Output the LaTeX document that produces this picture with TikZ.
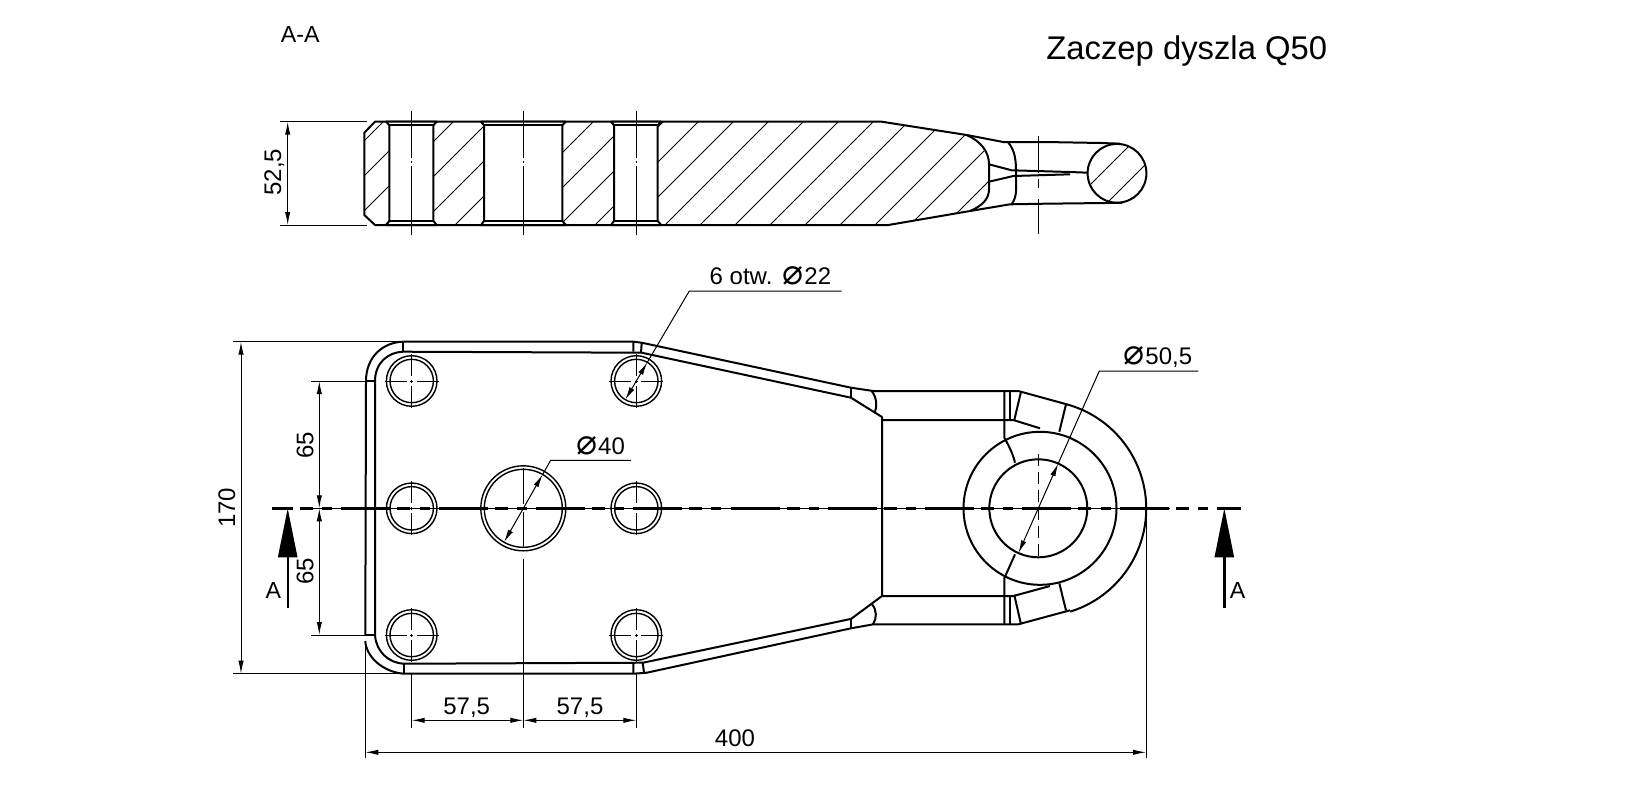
\documentclass[tikz,border=0pt]{standalone}
\usepackage{fontspec}
\setmainfont{Liberation Sans}
\newfontfamily\diafont{DejaVu Sans}
\usetikzlibrary{arrows.meta}
\newcommand{\dia}{{\diafont\fontsize{17.5pt}{15pt}\selectfont ⌀}}
\tikzset{
	outline/.style={line width=1pt,line join=round},
	holeline/.style={line width=0.7pt},
	thinline/.style={line width=0.5pt},
	hatchline/.style={line width=0.4pt},
	dimline/.style={thinline,>={Latex[length=6.5pt,width=2.7pt]}},
	axisline/.style={thinline,dash pattern=on 11pt off 1.75pt on 1.5pt off 1.75pt},
	sectaxis/.style={thinline,dash pattern=on 23.5pt off 1.5pt on 1pt off 1.5pt on 40pt},
	cutline/.style={line width=1.2pt,dash pattern=on 24.5pt off 3.5pt on 6.5pt off 4.6pt on 5pt off 4.55pt,dash phase=13.85pt},
	cutarrow/.style={line width=1.2pt,-{Triangle[length=24.5pt,width=9.5pt]}},
	label/.style={inner sep=0pt,font=\fontsize{12pt}{12pt}\selectfont,anchor=base},
}
\begin{document}
\begin{tikzpicture}[x=0.5pt,y=-0.5pt]
	\useasboundingbox (0,-1) rectangle (1636,798);
	\def\sectbody{(375,120.7) -- (881.7,120.7) -- (966.7,134) .. controls (980,140) and (989,150) .. (989,163.3)
		-- (989,188.3) .. controls (989,198) and (982,205) .. (970,210) -- (888.3,224) -- (375,224)
		-- (364.3,214) -- (364.3,131.7) -- cycle}

	% section A-A
	\begin{scope}
		\clip \sectbody;
		\foreach \c in {-11,...,9}
			\draw[hatchline] ({889+35*\c-110},110) -- ({889+35*\c-240},240);
	\end{scope}
	\begin{scope}
		\clip (1117,172.3) circle[radius=29.4];
		\foreach \c in {1274,1309}
			\draw[hatchline] ({\c-130},130) -- ({\c-210},210);
	\end{scope}
	\draw[outline] \sectbody;
	\foreach \a/\b in {389.3/433.3,484/562.3,614/657.7} {
		\draw[outline,fill=white] ({\a-3},120.7) -- ({\b+3.5},120.7) -- (\b,124.3) -- (\b,220) -- ({\b+3.5},224)
			-- ({\a-3},224) -- (\a,220) -- (\a,124.3) -- cycle;
		\draw[outline] (\a,124.3) -- (\b,124.3) (\a,220) -- (\b,220);
	}
	\draw[outline] (966.7,134) -- (1003.3,141) -- (1045,141) -- (1101.7,142) -- (1120,142.7);
	\draw[outline] (970,210) -- (1010,203.3) -- (1045,202.7) -- (1122,201.8);
	\draw[outline] (1008.3,141.7) .. controls (1013,147) and (1016,155) .. (1016,169) -- (1016,190) .. controls (1016,195) and (1014,200) .. (1011.7,203);
	\draw[outline] (989,163.3) -- (1011.7,169.3) -- (1070,171) -- (1088,171.7);
	\draw[outline] (989,180.7) -- (1013.3,175) -- (1070,173.3);
	\draw[outline] (1117,172.3) circle[radius=29.4];
	\foreach \x in {411.3,523.3,636.3}
		\draw[sectaxis] (\x,110) -- (\x,234.3);
	\draw[thinline] (1038.3,135) -- (1038.3,172) (1038.3,178) -- (1038.3,187) (1038.3,198) -- (1038.3,232.7);

	% plate outline
	\draw[outline] (403.3,340.7) .. controls (384,341) and (366,355) .. (366,380) -- (365.3,634);
	\draw[outline] (403.3,350.7) .. controls (388,351) and (375,362) .. (375,380) -- (375,634);
	\draw[outline] (365.3,380) -- (375,380) (365.3,634) -- (375,634);
	\draw[outline] (365.3,640) .. controls (366,655) and (382,671) .. (404,672.7);
	\draw[outline] (375,634) .. controls (376,650) and (388,662) .. (404,662.7);
	\draw[outline] (403.3,340.7) -- (633.3,340.7) -- (641.7,341.7) -- (851,386.7) -- (873.3,390) -- (1018.3,390) -- (1066.7,403.3);
	\draw[outline] (403.3,350.7) -- (641.7,351.7) -- (851,396.7) -- (882,416) -- (882,595) -- (851,617.9) -- (643,661.7) -- (404,662.7);
	\draw[outline] (404,672.7) -- (633.3,672.7) -- (646.7,671.7) -- (851,627.3) -- (873.3,623.3) -- (1018.3,623.3) -- (1070,609.3);
	\draw[outline] (403.3,340.7) -- (403.3,350.7) (404,662.7) -- (404,672.7);
	\draw[outline] (633.3,340.7) -- (633.3,350.7) (641.7,341.7) -- (641,351.7);
	\draw[outline] (633.3,662.7) -- (633.3,672.7) (642.7,661.7) -- (644,671.7);
	\draw[outline] (851,386.7) -- (851,396.7) (851,617.9) -- (851,627.3);
	\draw[outline] (871.7,390) .. controls (877,397) and (877,405) .. (875,411);
	\draw[outline] (871.7,603) .. controls (877,609) and (877,617) .. (873,623.3);

	% eye end
	\draw[outline] (882,419) -- (1013.3,419) -- (1040,427.3);
	\draw[outline] (882,595) -- (1013.3,595) -- (1050,585);
	\draw[outline] (1066.7,403.3) arc[start angle=-74.7,end angle=72.7,radius=108];
	\draw[outline] (1040,507.3) circle[radius=76.5];
	\draw[outline] (1038.3,507.3) circle[radius=49];
	\draw[outline] (1004.3,390) -- (1004.3,436.7) .. controls (1009,445) and (1013,453) .. (1015,461.7);
	\draw[outline] (1004.3,623.3) -- (1004.3,577.3) -- (1015,553.3);
	\draw[outline] (1010,390) -- (1010,419) (1010,595) -- (1010,623.3);
	\draw[outline] (1021,390.7) -- (1014.3,419) (1014.3,594) -- (1021,623.3);
	\draw[outline] (1066,403.3) -- (1059.3,430.7) (1059.3,582.3) -- (1066,609.3);
	\draw[thinline,dash pattern=on 6pt off 3pt] (1038.3,453) -- (1038.3,560);

	% holes
	\foreach \hx/\hy in {411.7/380,636.3/380,411.7/507.3,636.3/507.3,411.7/634,636.3/634} {
		\draw[holeline] (\hx,\hy) circle[radius=25.3] (\hx,\hy) circle[radius=21.7];
		\draw[axisline] ({\hx-27},\hy) -- ({\hx+27},\hy);
		\draw[axisline] (\hx,{\hy-27}) -- (\hx,{\hy+27});
	}
	\draw[holeline] (523.3,507.3) circle[radius=42.5] (523.3,507.3) circle[radius=39];
	\draw[thinline,dash pattern=on 18pt off 1.5pt on 1pt off 1.5pt] (523.3,467.3) -- (523.3,547.3);

	% cut line
	\draw[thinline] (312,507.3) -- (1170,507.3);
	\draw[cutline] (271.7,507.3) -- (1241,507.3);
	\draw[cutarrow] (287.7,606.7) -- (287.7,507.3);
	\draw[cutarrow] (1224.3,606.7) -- (1224.3,507.3);

	% dimensions
	\draw[thinline] (280,120.7) -- (366.7,120.7) (280,224) -- (366.7,224);
	\draw[dimline,<->] (287.7,120.7) -- (287.7,224);
	\draw[thinline] (233.3,340.7) -- (403,340.7) (233.3,672.7) -- (400,672.7);
	\draw[dimline,<->] (241,340.7) -- (241,672.7);
	\draw[thinline] (311,380) -- (366,380) (311,634) -- (365.3,634);
	\draw[dimline,<->] (319.3,380) -- (319.3,507.3);
	\draw[dimline,<->] (319.3,507.3) -- (319.3,634);
	\draw[thinline] (411.7,672) -- (411.7,726.7) (523.3,558) -- (523.3,726.7) (636.3,672) -- (636.3,726.7);
	\draw[dimline,<->] (411.7,719.3) -- (523.3,719.3);
	\draw[dimline,<->] (523.3,719.3) -- (636.3,719.3);
	\draw[thinline] (365.3,640) -- (365.3,757.3) (1146,507.3) -- (1146,757.3);
	\draw[dimline,<->] (365.3,751.3) -- (1146,751.3);

	% diameter leaders
	\draw[thinline] (841.7,290) -- (689.3,290) -- (647.3,361.3);
	\draw[dimline,<->] (647.3,361.3) -- (625.3,398.7);
	\draw[thinline] (631,459.3) -- (550.7,459.3) -- (542.6,473.5);
	\draw[dimline,<->] (542.6,473.5) -- (504,541.2);
	\draw[thinline] (1198.3,370) -- (1099.3,370) -- (1058.2,462.5);
	\draw[dimline,<->] (1058.2,462.5) -- (1018.4,552.1);

	% texts
	\node[label,anchor=base west,font=\fontsize{16.4pt}{16.4pt}\selectfont] (title) at (1046,58.2) {Zaczep dyszla Q50};
	\node[label,font=\fontsize{11.6pt}{12pt}\selectfont] (secname) at (300.3,41) {A-A};
	\node[label,rotate=90] (dimthick) at (281,171) {52,5};
	\node[label,rotate=90] (dimwidth) at (235,506.7) {170};
	\node[label,rotate=90] (dimupper) at (313.3,444) {65};
	\node[label,rotate=90] (dimlower) at (313.3,570) {65};
	\node[label] (dimleft) at (466.7,713.2) {57,5};
	\node[label] (dimright) at (580,713.2) {57,5};
	\node[label] (dimlength) at (735,745.2) {400};
	\node[label,anchor=base west] (diaholes) at (709.3,283.8) {6 otw.\hspace{5pt}\dia\hspace{0.5pt}22};
	\node[label,anchor=base west] (diabig) at (575.7,453.2) {\dia\hspace{0.5pt}40};
	\node[label,anchor=base west] (diaeye) at (1123,363.8) {\dia\hspace{0.5pt}50,5};
	\node[label,font=\fontsize{11.6pt}{12pt}\selectfont] (cutleft) at (273.3,597) {A};
	\node[label,font=\fontsize{11.6pt}{12pt}\selectfont] (cutright) at (1237.7,597) {A};
\end{tikzpicture}
\end{document}
